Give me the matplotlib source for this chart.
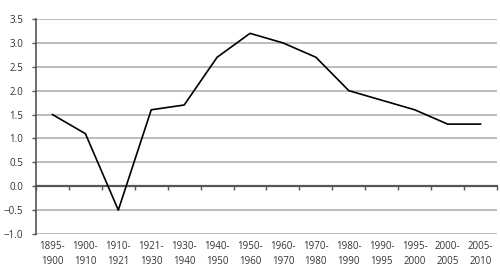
import numpy as np
import matplotlib.pyplot as plt

plt.rcParams['font.family'] = ['Open Sans', 'DejaVu Sans']

periods = ["1895-\n1900", "1900-\n1910", "1910-\n1921", "1921-\n1930", "1930-\n1940",
           "1940-\n1950", "1950-\n1960", "1960-\n1970", "1970-\n1980", "1980-\n1990",
           "1990-\n1995", "1995-\n2000", "2000-\n2005", "2005-\n2010"]
growth = [1.5, 1.1, -0.5, 1.6, 1.7, 2.7, 3.2, 3.0, 2.7, 2.0, 1.8, 1.6, 1.3, 1.3]

fig = plt.figure(figsize=(5, 2.68), dpi=100)
ax = fig.add_axes([0.072, 0.127, 0.922, 0.802])

x = np.arange(len(periods))
ax.plot(x, growth, color='black', lw=1.2, zorder=3)

ax.set_xlim(-0.5, len(periods) - 0.5)
ax.set_ylim(-1.0, 3.5)
ax.set_yticks(np.arange(-1.0, 3.51, 0.5))
ax.set_yticklabels([f"{v:.1f}".replace('-', '\u2212') for v in np.arange(-1.0, 3.51, 0.5)])
ax.yaxis.grid(True, color='#b8b8b8', lw=1.3)
ax.set_axisbelow(True)

for s in ['top', 'right']:
    ax.spines[s].set_visible(False)
ax.spines['left'].set_color('#555555')
ax.spines['left'].set_linewidth(1.2)
ax.spines['bottom'].set_position(('data', 0))
ax.spines['bottom'].set_color('#555555')
ax.spines['bottom'].set_linewidth(1.6)

ax.set_xticks(np.arange(-0.5, len(periods), 1.0))
ax.set_xticklabels([])
ax.tick_params(axis='x', length=3, width=1, color='#555555', direction='out')
ax.tick_params(axis='y', length=3, width=1, color='#555555', labelsize=7, labelcolor='#333333', pad=6)

sec = ax.secondary_xaxis('bottom')
sec.set_xticks(x)
sec.set_xticklabels(periods, fontsize=7, color='#333333', linespacing=1.5)
sec.tick_params(length=0, pad=5)
sec.spines['bottom'].set_visible(False)

fig.savefig('out.png', dpi=100)
